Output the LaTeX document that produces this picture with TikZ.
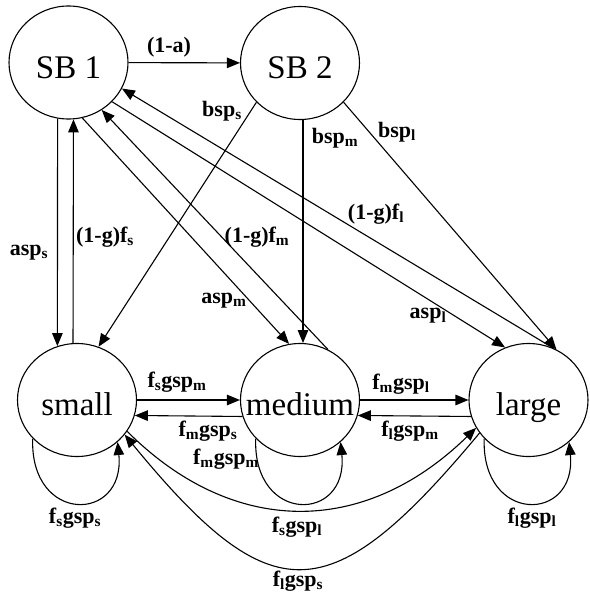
\documentclass[tikz,border=0pt]{standalone}
\usepackage{fontspec}
\setmainfont{Liberation Serif}
\usetikzlibrary{arrows.meta,shapes.geometric}
\newcommand{\sttext}[1]{\makebox[0pt]{\raisebox{-15.5pt}[0pt][0pt]{#1}}}
\begin{document}
\begin{tikzpicture}[x=1pt,y=1pt,
  state/.style={draw, ellipse, line width=1.1pt, minimum width=119pt, minimum height=113pt, inner sep=0pt, font=\fontsize{33}{36}\selectfont},
  lab/.style={font=\bfseries\fontsize{22}{24}\selectfont, inner sep=0pt},
  arr/.style={line width=1.1pt, -{Triangle[length=13pt,width=10.5pt]}}]
\useasboundingbox (0,0) rectangle (589,-597);
% states
\node[state] (sb1) at (68.5,-62.5) {\sttext{SB 1}};
\node[state] (sb2) at (300,-63) {\sttext{SB 2}};
\node[state] (small) at (77,-400) {\sttext{small}};
\node[state] (medium) at (300,-400) {\sttext{medium}};
\node[state] (large) at (528.5,-400) {\sttext{large}};
% top
\draw[arr] (sb1) -- (sb2);
\draw[arr] (sb1.-101.8) -- (small.110.4);
\draw[arr] (small.94) -- (sb1.-85.4);
\draw[arr] (sb2.-138.4) -- (small.68);
\draw[arr] (sb2.-87) -- (medium.87);
\draw[arr] (sb1.-76.3) -- (medium.101.9);
\draw[arr] (medium.61.6) -- (sb1.-55.9);
\draw[arr] (sb2.-42.9) -- (large.61.7);
\draw[arr] (sb1.-42.3) -- (large.114.9);
\draw[arr] (large.65.2) -- (sb1.-26.8);
% horizontal
\draw[arr] (small.east) -- (medium.west);
\draw[arr] (medium.-164.5) -- (small.-15.5);
\draw[arr] (medium.east) -- (large.west);
\draw[arr] (large.-164.5) -- (medium.-15.5);
% loops
\draw[arr] (small.-139) .. controls +(-3,-86) and +(8,-81) .. (small.-46);
\draw[arr] (medium.-139) .. controls +(-3,-86) and +(8,-81) .. (medium.-46);
\draw[arr] (large.-139) .. controls +(-3,-86) and +(8,-81) .. (large.-46);
% long curves
\draw[arr] (small.-32) .. controls +(105,-105) and +(-113,-110) .. (large.-152);
\draw[arr] (large.-146.6) .. controls +(-150,-180) and +(147,-179) .. (small.-36.3);
% labels
\node[lab] (l1) at (169,-47) {(1-a)};
\node[lab] (l2) at (222,-111) {bsp\textsubscript{s}};
\node[lab] (l3) at (335,-138) {bsp\textsubscript{m}};
\node[lab] (l4) at (397,-132) {bsp\textsubscript{l}};
\node[lab] (l5) at (29,-253) {asp\textsubscript{s}};
\node[lab] (l6) at (105,-237) {(1-g)f\textsubscript{s}};
\node[lab] (l7) at (224,-301) {asp\textsubscript{m}};
\node[lab] (l8) at (257,-237) {(1-g)f\textsubscript{m}};
\node[lab] (l9) at (428,-316) {asp\textsubscript{l}};
\node[lab] (l10) at (376,-214) {(1-g)f\textsubscript{l}};
\node[lab] (l11) at (177,-382) {f\textsubscript{s}gsp\textsubscript{m}};
\node[lab] (l12) at (208,-431) {f\textsubscript{m}gsp\textsubscript{s}};
\node[lab] (l13) at (401,-384) {f\textsubscript{m}gsp\textsubscript{l}};
\node[lab] (l14) at (410,-431) {f\textsubscript{l}gsp\textsubscript{m}};
\node[lab] (l15) at (226,-459) {f\textsubscript{m}gsp\textsubscript{m}};
\node[lab] (l16) at (75,-518) {f\textsubscript{s}gsp\textsubscript{s}};
\node[lab] (l17) at (532,-518) {f\textsubscript{l}gsp\textsubscript{l}};
\node[lab] (l18) at (297,-527) {f\textsubscript{s}gsp\textsubscript{l}};
\node[lab] (l19) at (298,-581) {f\textsubscript{l}gsp\textsubscript{s}};
\end{tikzpicture}
\end{document}
